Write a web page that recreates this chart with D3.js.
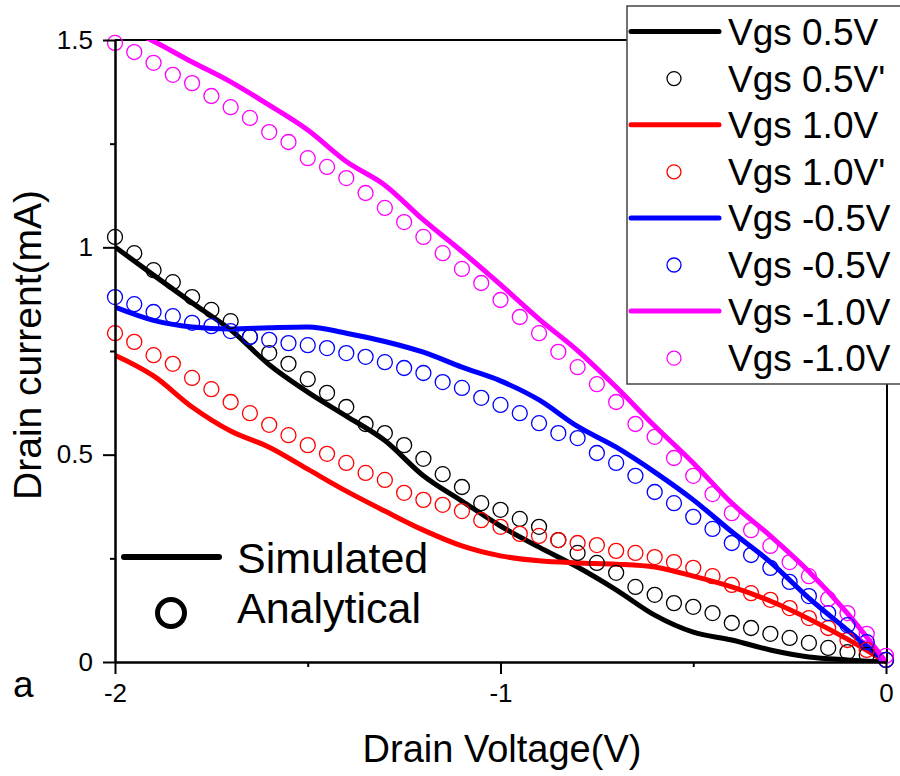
<!DOCTYPE html>
<html>
<head>
<meta charset="utf-8">
<script src="https://cdn.jsdelivr.net/npm/d3@7"></script>
<style>
  html, body { margin: 0; padding: 0; background: #fff; }
  svg { display: block; }
  text { font-family: "Liberation Sans", Arial, sans-serif; fill: #000; }
</style>
</head>
<body>
<svg id="chart" width="900" height="776"></svg>
<script>
// ---------------- DATA ----------------
const lineV = [-2.0, -1.9, -1.8, -1.7, -1.6, -1.5, -1.4, -1.3, -1.2, -1.1, -1.0,
               -0.9, -0.8, -0.7, -0.6, -0.5, -0.4, -0.3, -0.2, -0.1, 0.0];
const circleV = [-2.00, -1.95, -1.90, -1.85, -1.80, -1.75, -1.70, -1.65, -1.60, -1.55,
                 -1.50, -1.45, -1.40, -1.35, -1.30, -1.25, -1.20, -1.15, -1.10, -1.05,
                 -1.00, -0.95, -0.90, -0.85, -0.80, -0.75, -0.70, -0.65, -0.60, -0.55,
                 -0.50, -0.45, -0.40, -0.35, -0.30, -0.25, -0.20, -0.15, -0.10, -0.05, 0.00];

// Simulated (lines), drain current in mA
const simVgs05  = [1.001, 0.933, 0.866, 0.801, 0.717, 0.651, 0.593, 0.534, 0.449, 0.388, 0.328,
                   0.277, 0.229, 0.174, 0.113, 0.072, 0.053, 0.029, 0.012, 0.005, 0.0];
const simVgs10  = [0.740, 0.690, 0.615, 0.557, 0.518, 0.465, 0.412, 0.364, 0.318, 0.280, 0.256,
                   0.244, 0.239, 0.236, 0.229, 0.207, 0.181, 0.147, 0.104, 0.055, 0.0];
const simVgsM05 = [0.856, 0.824, 0.808, 0.803, 0.806, 0.808, 0.793, 0.773, 0.747, 0.711, 0.678,
                   0.632, 0.568, 0.518, 0.458, 0.391, 0.314, 0.241, 0.154, 0.077, 0.0];
const simVgsM10 = [1.540, 1.497, 1.447, 1.399, 1.343, 1.283, 1.207, 1.150, 1.066, 0.990, 0.910,
                   0.827, 0.751, 0.663, 0.569, 0.480, 0.383, 0.304, 0.218, 0.117, 0.0];

// Analytical (circles)
const anaVgs05  = [1.025, 0.986, 0.945, 0.916, 0.880, 0.849, 0.822, 0.784, 0.745, 0.719,
                   0.682, 0.649, 0.615, 0.574, 0.552, 0.523, 0.490, 0.453, 0.422, 0.383,
                   0.367, 0.345, 0.326, 0.294, 0.263, 0.239, 0.215, 0.181, 0.162, 0.142,
                   0.133, 0.118, 0.094, 0.082, 0.068, 0.058, 0.046, 0.034, 0.024, 0.017, 0.005];
const anaVgs10  = [0.793, 0.772, 0.740, 0.719, 0.685, 0.658, 0.627, 0.600, 0.572, 0.547,
                   0.523, 0.502, 0.480, 0.456, 0.439, 0.408, 0.391, 0.379, 0.364, 0.342,
                   0.326, 0.309, 0.304, 0.294, 0.287, 0.282, 0.268, 0.263, 0.253, 0.241,
                   0.227, 0.207, 0.186, 0.166, 0.150, 0.130, 0.106, 0.082, 0.053, 0.029, 0.005];
const anaVgsM05 = [0.880, 0.863, 0.844, 0.834, 0.818, 0.810, 0.798, 0.784, 0.777, 0.769,
                   0.764, 0.757, 0.745, 0.736, 0.723, 0.709, 0.697, 0.675, 0.661, 0.637,
                   0.620, 0.600, 0.576, 0.552, 0.540, 0.504, 0.480, 0.449, 0.410, 0.383,
                   0.350, 0.321, 0.287, 0.258, 0.227, 0.193, 0.159, 0.118, 0.089, 0.048, 0.005];
const anaVgsM10 = [1.493, 1.471, 1.445, 1.416, 1.396, 1.365, 1.338, 1.312, 1.278, 1.254,
                   1.215, 1.194, 1.167, 1.131, 1.095, 1.061, 1.025, 0.986, 0.948, 0.914,
                   0.873, 0.832, 0.793, 0.748, 0.711, 0.670, 0.627, 0.574, 0.543, 0.492,
                   0.449, 0.405, 0.359, 0.318, 0.280, 0.241, 0.207, 0.152, 0.118, 0.068, 0.015];

const seriesNames = ["Vgs 0.5V", "Vgs 0.5V'", "Vgs 1.0V", "Vgs 1.0V'",
                     "Vgs -0.5V", "Vgs -0.5V", "Vgs -1.0V", "Vgs -1.0V"];
const seriesColors = ["#000000", "#ff0000", "#0000ff", "#ff00ff"];
const xTicks = [-2, -1, 0];
const xMinorTicks = [-1.5, -0.5];
const yTicks = [0, 0.5, 1, 1.5];
const yMinorTicks = [0.25, 0.75, 1.25];

// ---------------- CHART ----------------
(function () {
const svg = d3.select("#chart");
const pL = 115, pR = 886, pT = 40, pB = 662;
const x = d3.scaleLinear().domain([-2, 0]).range([pL, pR]);
const y = d3.scaleLinear().domain([0, 1.5]).range([pB, pT]);

svg.append("defs").append("clipPath").attr("id", "plotclip")
  .append("rect").attr("x", pL).attr("y", pT)
  .attr("width", pR - pL).attr("height", pB - pT);

const sims = [simVgs05, simVgs10, simVgsM05, simVgsM10];
const anas = [anaVgs05, anaVgs10, anaVgsM05, anaVgsM10];

// frame lines (top, right)
svg.append("line").attr("x1", pL).attr("x2", pR + 1).attr("y1", pT).attr("y2", pT)
  .attr("stroke", "#000").attr("stroke-width", 2);
svg.append("line").attr("x1", pR + 1).attr("x2", pR + 1).attr("y1", pT).attr("y2", pB)
  .attr("stroke", "#000").attr("stroke-width", 2);

// lines
const lineGen = d3.line().x((d, i) => x(lineV[i])).y(d => y(d)).curve(d3.curveMonotoneX);
const gLines = svg.append("g").attr("clip-path", "url(#plotclip)");
sims.forEach((s, si) => {
  gLines.append("path").datum(s)
    .attr("d", lineGen)
    .attr("fill", "none")
    .attr("stroke", seriesColors[si])
    .attr("stroke-width", 5)
    .attr("stroke-linejoin", "round");
});

// circles
anas.forEach((s, si) => {
  svg.append("g").selectAll("circle").data(s).join("circle")
    .attr("cx", (d, i) => x(circleV[i]))
    .attr("cy", d => y(d))
    .attr("r", 7.5)
    .attr("fill", "none")
    .attr("stroke", seriesColors[si])
    .attr("stroke-width", 1.3);
});

// axes
function styleAxis(g) {
  g.select(".domain").attr("stroke", "#000").attr("stroke-width", 2);
  g.selectAll(".tick line").attr("stroke", "#000").attr("stroke-width", 2);
  g.selectAll(".tick text").attr("font-size", 26).attr("fill", "#000")
    .attr("font-family", '"Liberation Sans", Arial, sans-serif');
}
const xAxis = svg.append("g").attr("transform", `translate(0,${pB})`)
  .call(d3.axisBottom(x).tickValues(xTicks).tickSize(12).tickSizeOuter(0).tickPadding(10)
        .tickFormat(d => String(d)));
styleAxis(xAxis);
const xMinor = svg.append("g").attr("transform", `translate(0,${pB})`)
  .call(d3.axisBottom(x).tickValues(xMinorTicks).tickSize(5).tickSizeOuter(0).tickFormat(""));
styleAxis(xMinor);
const yAxis = svg.append("g").attr("transform", `translate(${pL},0)`)
  .call(d3.axisLeft(y).tickValues(yTicks).tickSize(12).tickSizeOuter(0).tickPadding(10)
        .tickFormat(d => String(d)));
styleAxis(yAxis);
const yMinor = svg.append("g").attr("transform", `translate(${pL},0)`)
  .call(d3.axisLeft(y).tickValues(yMinorTicks).tickSize(5).tickSizeOuter(0).tickFormat(""));
styleAxis(yMinor);

// axis titles
svg.append("text").attr("x", 502).attr("y", 762).attr("text-anchor", "middle")
  .attr("font-size", 38).text("Drain Voltage(V)");
svg.append("text").attr("transform", "translate(41,345) rotate(-90)")
  .attr("text-anchor", "middle").attr("font-size", 39).text("Drain current(mA)");

// panel label
svg.append("text").attr("x", 13).attr("y", 697).attr("font-size", 37).text("a");

// in-plot style legend
svg.append("line").attr("x1", 124).attr("x2", 219).attr("y1", 557).attr("y2", 557)
  .attr("stroke", "#000").attr("stroke-width", 6).attr("stroke-linecap", "round");
svg.append("text").attr("x", 237).attr("y", 573).attr("font-size", 43).text("Simulated");
svg.append("circle").attr("cx", 171).attr("cy", 613).attr("r", 13.5)
  .attr("fill", "none").attr("stroke", "#000").attr("stroke-width", 5);
svg.append("text").attr("x", 237).attr("y", 623).attr("font-size", 43).text("Analytical");

// series legend box
const lg = svg.append("g");
lg.append("rect").attr("x", 627).attr("y", 6).attr("width", 290).attr("height", 378)
  .attr("fill", "#fff").attr("stroke", "#444").attr("stroke-width", 1.5);
seriesNames.forEach((name, i) => {
  const base = 45 + i * 46.6;
  const c = seriesColors[Math.floor(i / 2)];
  if (i % 2 === 0) {
    lg.append("line").attr("x1", 631).attr("x2", 719).attr("y1", base - 13.5).attr("y2", base - 13.5)
      .attr("stroke", c).attr("stroke-width", 5).attr("stroke-linecap", "round");
  } else {
    lg.append("circle").attr("cx", 674).attr("cy", base - 13).attr("r", 7)
      .attr("fill", "none").attr("stroke", c).attr("stroke-width", 1.3);
  }
  lg.append("text").attr("x", 728).attr("y", base).attr("font-size", 37).text(name);
});
})();
</script>
</body>
</html>
